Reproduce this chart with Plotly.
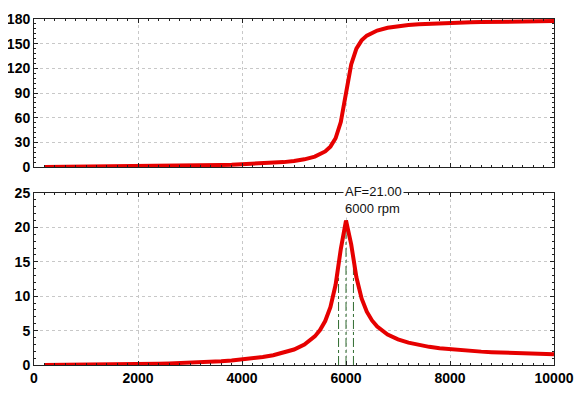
import math
import plotly.graph_objects as go
from plotly.subplots import make_subplots

# ---- data ----
rpm = [200, 400, 600, 800, 1000, 1200, 1400, 1600, 1800, 2000,
       2200, 2400, 2600, 2800, 3000, 3200, 3400, 3600, 3800, 4000,
       4200, 4400, 4600, 4800, 5000, 5200, 5400, 5500, 5600, 5700,
       5800, 5900, 6000, 6100, 6200, 6300, 6400, 6500, 6600, 6800,
       7000, 7200, 7400, 7600, 7800, 8000, 8200, 8400, 8600, 8800,
       9000, 9200, 9400, 9600, 9800, 10000]
phase_deg = [0.09, 0.18, 0.28, 0.37, 0.47, 0.57, 0.67, 0.78, 0.90, 1.02,
             1.16, 1.30, 1.46, 1.63, 1.82, 2.03, 2.28, 2.56, 2.88, 3.27,
             3.74, 4.32, 5.06, 6.04, 7.40, 9.41, 12.71, 15.29, 19.02, 24.89,
             35.06, 54.75, 90.0, 124.78, 144.03, 154.0, 159.77, 163.45, 166.0, 169.26,
             171.25, 172.60, 173.57, 174.30, 174.87, 175.33, 175.71, 176.03, 176.30, 176.53,
             176.73, 176.91, 177.06, 177.20, 177.33, 177.44]
amp_factor = [0.001, 0.004, 0.010, 0.018, 0.029, 0.042, 0.058, 0.077, 0.099, 0.125,
              0.155, 0.191, 0.231, 0.278, 0.333, 0.398, 0.473, 0.562, 0.669, 0.799,
              0.958, 1.160, 1.420, 1.768, 2.254, 2.977, 4.158, 5.075, 6.389, 8.396,
              11.66, 16.86, 21.00, 17.54, 12.75, 9.667, 7.747, 6.480, 5.590, 4.437,
              3.726, 3.246, 2.901, 2.641, 2.439, 2.278, 2.146, 2.037, 1.944, 1.865,
              1.797, 1.738, 1.685, 1.639, 1.598, 1.561]
half_power_rpm = [5857, 6143]

x_ticks = [0, 2000, 4000, 6000, 8000, 10000]
phase_ticks = [0, 30, 60, 90, 120, 150, 180]
af_ticks = [0, 5, 10, 15, 20, 25]

RED = "#e60000"
GREEN = "#2f6b2f"
GRID = "#c8c8c8"
AXIS = "#222222"
tickfont = dict(family="Liberation Sans, Arial, sans-serif", size=14, color="black", weight="bold")

fig = make_subplots(rows=2, cols=1, shared_xaxes=False, vertical_spacing=0.0)

fig.add_trace(go.Scatter(x=rpm, y=phase_deg, mode="lines",
                         line=dict(color=RED, width=4), showlegend=False), row=1, col=1)

peak_i = max(range(len(amp_factor)), key=lambda i: amp_factor[i])
peak_rpm = rpm[peak_i]
peak_af = amp_factor[peak_i]
hp_level = peak_af / math.sqrt(2)

for xv, top in [(half_power_rpm[0], hp_level), (peak_rpm, peak_af), (half_power_rpm[1], hp_level)]:
    fig.add_trace(go.Scatter(x=[xv, xv], y=[0, top], mode="lines",
                             line=dict(color=GREEN, width=1, dash="dashdot"),
                             showlegend=False), row=2, col=1)

fig.add_trace(go.Scatter(x=rpm, y=amp_factor, mode="lines",
                         line=dict(color=RED, width=4), showlegend=False), row=2, col=1)

common_x = dict(range=[0, 10000], tickvals=x_ticks, ticks="inside", ticklen=4,
                tickcolor=AXIS, showline=True, linecolor=AXIS, linewidth=1,
                mirror="allticks", showgrid=True, gridcolor=GRID, griddash="3px,3px",
                gridwidth=1, zeroline=False, tickfont=tickfont, automargin=False,
                minor=dict(dtick=200, ticks="inside", ticklen=2, tickcolor=AXIS, showgrid=False))

fig.update_xaxes(**common_x, showticklabels=False, row=1, col=1)
fig.update_xaxes(**common_x, showticklabels=True, ticktext=[str(v) for v in x_ticks], row=2, col=1)

common_y = dict(ticks="inside", ticklen=4, tickcolor=AXIS, showline=True, linecolor=AXIS,
                linewidth=1, mirror="allticks", showgrid=True, gridcolor=GRID,
                griddash="3px,3px", gridwidth=1, zeroline=False, tickfont=tickfont,
                automargin=False)

fig.update_yaxes(**common_y, range=[0, 180], tickvals=phase_ticks,
                 minor=dict(dtick=6, ticks="inside", ticklen=2, tickcolor=AXIS, showgrid=False),
                 domain=[0.572, 1.0], row=1, col=1)
fig.update_yaxes(**common_y, range=[0, 25], tickvals=af_ticks,
                 minor=dict(dtick=1, ticks="inside", ticklen=2, tickcolor=AXIS, showgrid=False),
                 domain=[0.0, 0.497], row=2, col=1)

ann_font = dict(family="Liberation Sans, Arial, sans-serif", size=13, color="#111111")
fig.add_annotation(x=peak_rpm, y=25, xref="x2", yref="y2",
                   text=f"AF={peak_af:.2f}<br>{peak_rpm} rpm",
                   showarrow=False, xanchor="left", yanchor="middle", align="left",
                   xshift=-3, yshift=-7, bgcolor="white", borderpad=1, font=ann_font)

fig.update_layout(width=583, height=395, margin=dict(l=26, r=37, t=11, b=38),
                  plot_bgcolor="white", paper_bgcolor="white")

fig.write_html("out.html")
